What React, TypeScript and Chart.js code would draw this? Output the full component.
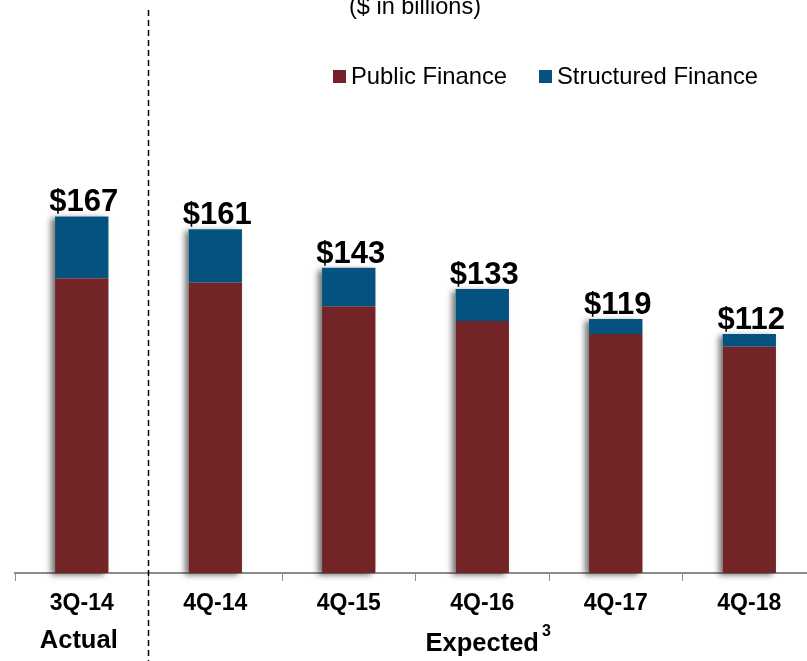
import React, { useEffect, useRef } from "react";
import { Chart, registerables } from "chart.js";

Chart.register(...registerables);

const categories = ["3Q-14", "4Q-14", "4Q-15", "4Q-16", "4Q-17", "4Q-18"];
const publicFinance = [138, 136, 125, 118, 112, 106];
const structuredFinance = [29, 25, 18, 15, 7, 6];
const totalLabels = ["$167", "$161", "$143", "$133", "$119", "$112"];
const seriesNames = ["Public Finance", "Structured Finance"];
const seriesColors = ["#722426", "#04527F"];
const subtitle = "($ in billions)";
const groupActual = "Actual";
const groupExpected = "Expected";
const footnote = "3";

const FONT = "'Liberation Sans', Arial, sans-serif";

const overlayPlugin = {
  id: "overlay",
  beforeDatasetsDraw(chart: any) {
    const ctx = chart.ctx;
    ctx.save();
    ctx.shadowColor = "rgba(0,0,0,0.55)";
    ctx.shadowBlur = 6;
    ctx.shadowOffsetX = -4;
    ctx.shadowOffsetY = 2;
    const top = chart.getDatasetMeta(1);
    const bottom = chart.getDatasetMeta(0);
    top.data.forEach((bar: any, i: number) => {
      const b = bottom.data[i];
      const w = bar.width;
      ctx.fillStyle = "#ffffff";
      ctx.fillRect(bar.x - w / 2, bar.y, w, b.base - bar.y);
    });
    ctx.restore();
  },
  afterDraw(chart: any) {
    const ctx = chart.ctx;
    const xs = chart.scales.x;
    ctx.save();

    // subtitle
    ctx.fillStyle = "#000";
    ctx.font = `23.5px ${FONT}`;
    ctx.textAlign = "center";
    ctx.textBaseline = "alphabetic";
    ctx.fillText(subtitle, 415, 14);

    // legend
    const legendItems = [
      { x: 333, tx: 351 },
      { x: 539, tx: 557 },
    ];
    ctx.font = `23.8px ${FONT}`;
    ctx.textAlign = "left";
    ctx.textBaseline = "middle";
    legendItems.forEach((it, i) => {
      ctx.fillStyle = seriesColors[i];
      ctx.fillRect(it.x, 70, 13, 13);
      ctx.fillStyle = "#000";
      ctx.fillText(seriesNames[i], it.tx, 77);
    });

    // value labels
    const meta = chart.getDatasetMeta(1);
    ctx.font = `bold 31px ${FONT}`;
    ctx.textAlign = "center";
    ctx.textBaseline = "alphabetic";
    meta.data.forEach((bar: any, i: number) => {
      ctx.fillText(totalLabels[i], bar.x + 2, bar.y - 5);
    });

    // dashed separator
    const sepX = (xs.getPixelForValue(0) + xs.getPixelForValue(1)) / 2;
    ctx.strokeStyle = "#000";
    ctx.lineWidth = 1.5;
    ctx.setLineDash([6, 4]);
    ctx.beginPath();
    ctx.moveTo(sepX, 10);
    ctx.lineTo(sepX, 661);
    ctx.stroke();
    ctx.setLineDash([]);

    // group labels
    ctx.font = `bold 25.5px ${FONT}`;
    ctx.textBaseline = "middle";
    ctx.fillText(groupActual, xs.getPixelForValue(0) - 3, 641);
    const expX = xs.getPixelForValue(3);
    ctx.fillText(groupExpected, expX, 644);
    const w = ctx.measureText(groupExpected).width;
    ctx.font = `bold 16px ${FONT}`;
    ctx.textAlign = "left";
    ctx.textBaseline = "alphabetic";
    ctx.fillText(footnote, expX + w / 2 + 3, 636);

    ctx.restore();
  },
};

export default function App() {
  const ref = useRef<HTMLCanvasElement | null>(null);

  useEffect(() => {
    if (!ref.current) return;
    const chart = new Chart(ref.current, {
      type: "bar",
      data: {
        labels: categories,
        datasets: [
          {
            label: seriesNames[0],
            data: publicFinance,
            backgroundColor: seriesColors[0],
            borderWidth: 0,
            barPercentage: 0.4,
            categoryPercentage: 1,
          },
          {
            label: seriesNames[1],
            data: structuredFinance,
            backgroundColor: seriesColors[1],
            borderWidth: 0,
            barPercentage: 0.4,
            categoryPercentage: 1,
          },
        ],
      },
      options: {
        responsive: false,
        animation: false,
        devicePixelRatio: 1,
        layout: { padding: { left: 15, right: 14, top: 146, bottom: 0 } },
        plugins: {
          legend: { display: false },
          tooltip: { enabled: false },
          title: { display: false },
        },
        scales: {
          x: {
            stacked: true,
            grid: {
              display: true,
              drawOnChartArea: false,
              drawTicks: true,
              tickLength: 8,
              color: "#8c8c8c",
              offset: true,
            },
            border: { display: true, color: "#8c8c8c", width: 2 },
            ticks: {
              color: "#000",
              font: { family: FONT, size: 23, weight: "bold" },
              padding: 9,
              maxRotation: 0,
            },
            afterFit: (scale: any) => {
              scale.height = 88;
            },
          },
          y: {
            stacked: true,
            display: false,
            min: 0,
            max: 200,
          },
        },
      },
      plugins: [overlayPlugin],
    });
    return () => chart.destroy();
  }, []);

  return (
    <div
      style={{
        position: "fixed",
        left: 0,
        top: 0,
        width: 807,
        height: 661,
        overflow: "hidden",
        background: "#fff",
      }}
    >
      <canvas ref={ref} width={830} height={661} style={{ display: "block" }} />
    </div>
  );
}
